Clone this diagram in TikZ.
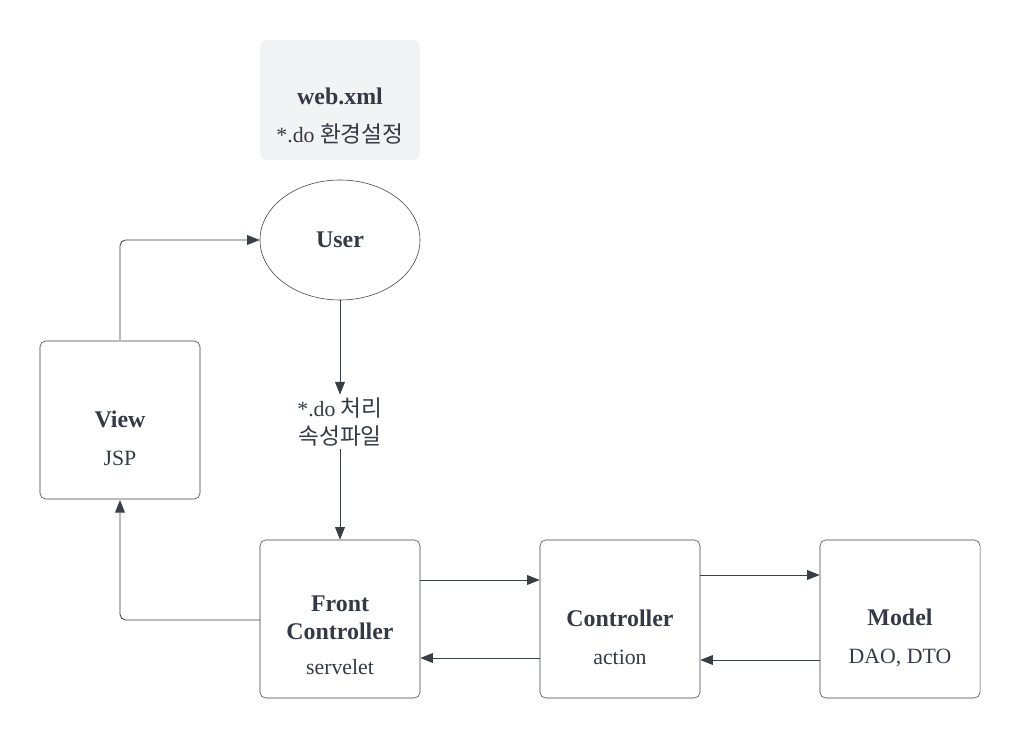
\documentclass[tikz,border=0pt]{standalone}
\usepackage{fontspec}
\setmainfont{Liberation Serif}
\newfontfamily\kor[Scale=1.04]{Noto Sans CJK KR}
\usetikzlibrary{positioning, shapes.geometric, arrows.meta}
\definecolor{inkgray}{HTML}{343A45}
\definecolor{linegray}{HTML}{3A3F47}
\definecolor{notegray}{HTML}{F1F3F4}
% bold title, optional strut pushes the text block down
\newcommand{\ttl}[2][0pt]{{\fontsize{17}{21}\selectfont\bfseries\rule{0pt}{#1}#2}}
\tikzset{
    block/.style={
        draw = linegray, rounded corners = 4pt,
        minimum width = 4cm,
        minimum height = 3.95cm,
        align = center, text = inkgray,
        font = \fontsize{15.5}{27}\selectfont
    },
    note/.style={
        fill = notegray, rounded corners = 4pt,
        minimum width = 4cm, minimum height = 3cm,
        align = center, text = inkgray,
        font = \fontsize{15.5}{27}\selectfont
    },
    line/.style = {-{Triangle[length=9pt,width=7pt]}, draw = linegray, semithick}
}
\begin{document}
\begin{tikzpicture}[x=0.025cm, y=-0.025cm]

    % Canvas
    \useasboundingbox (0,0) rectangle (1020,740);

    % Config note
    \node[note] (webxml) at (340,100) {\ttl[35pt]{web.xml}\\*.do {\kor 환경설정}};

    % User
    \node[ellipse, draw = linegray, minimum width = 4cm, minimum height = 3cm,
        text = inkgray] (user) at (340,240) {\ttl{User}};

    % Mapping label
    \node[align = center, text = inkgray, font = \fontsize{15.5}{20}\selectfont,
        inner sep = 2pt] (mapping) at (340,422) {*.do {\kor 처리}\\{\kor 속성파일}};

    % Blocks
    \node[block] (view) at (120,420) {\ttl[38pt]{View}\\JSP};
    \node[block] (front) at (340,619)
        {\ttl[34pt]{Front}\\[-7pt]\ttl{Controller}\\[-2pt]servelet};
    \node[block] (ctrl) at (620,619) {\ttl[38pt]{Controller}\\action};
    \node[block] (model) at (900,619) {\ttl[38pt]{Model}\\DAO, DTO};

    % Coordinates
    \coordinate (viewtop) at (120,340);
    \coordinate (viewbot) at (120,500);
    \coordinate (frontleft) at (260,620);

    % Arrows
    \draw[line] (user.south) -- (mapping.north);
    \draw[line] (mapping.south) -- (front.north);
    \draw[line, rounded corners = 4pt] (viewtop) |- (user.west);
    \draw[line, rounded corners = 4pt] (frontleft) -| (viewbot);
    \draw[line] (front.east |- 0,580) -- (ctrl.west |- 0,580);
    \draw[line] (ctrl.west |- 0,658) -- (front.east |- 0,658);
    \draw[line] (ctrl.east |- 0,575) -- (model.west |- 0,575);
    \draw[line] (model.west |- 0,660) -- (ctrl.east |- 0,660);

\end{tikzpicture}
\end{document}
